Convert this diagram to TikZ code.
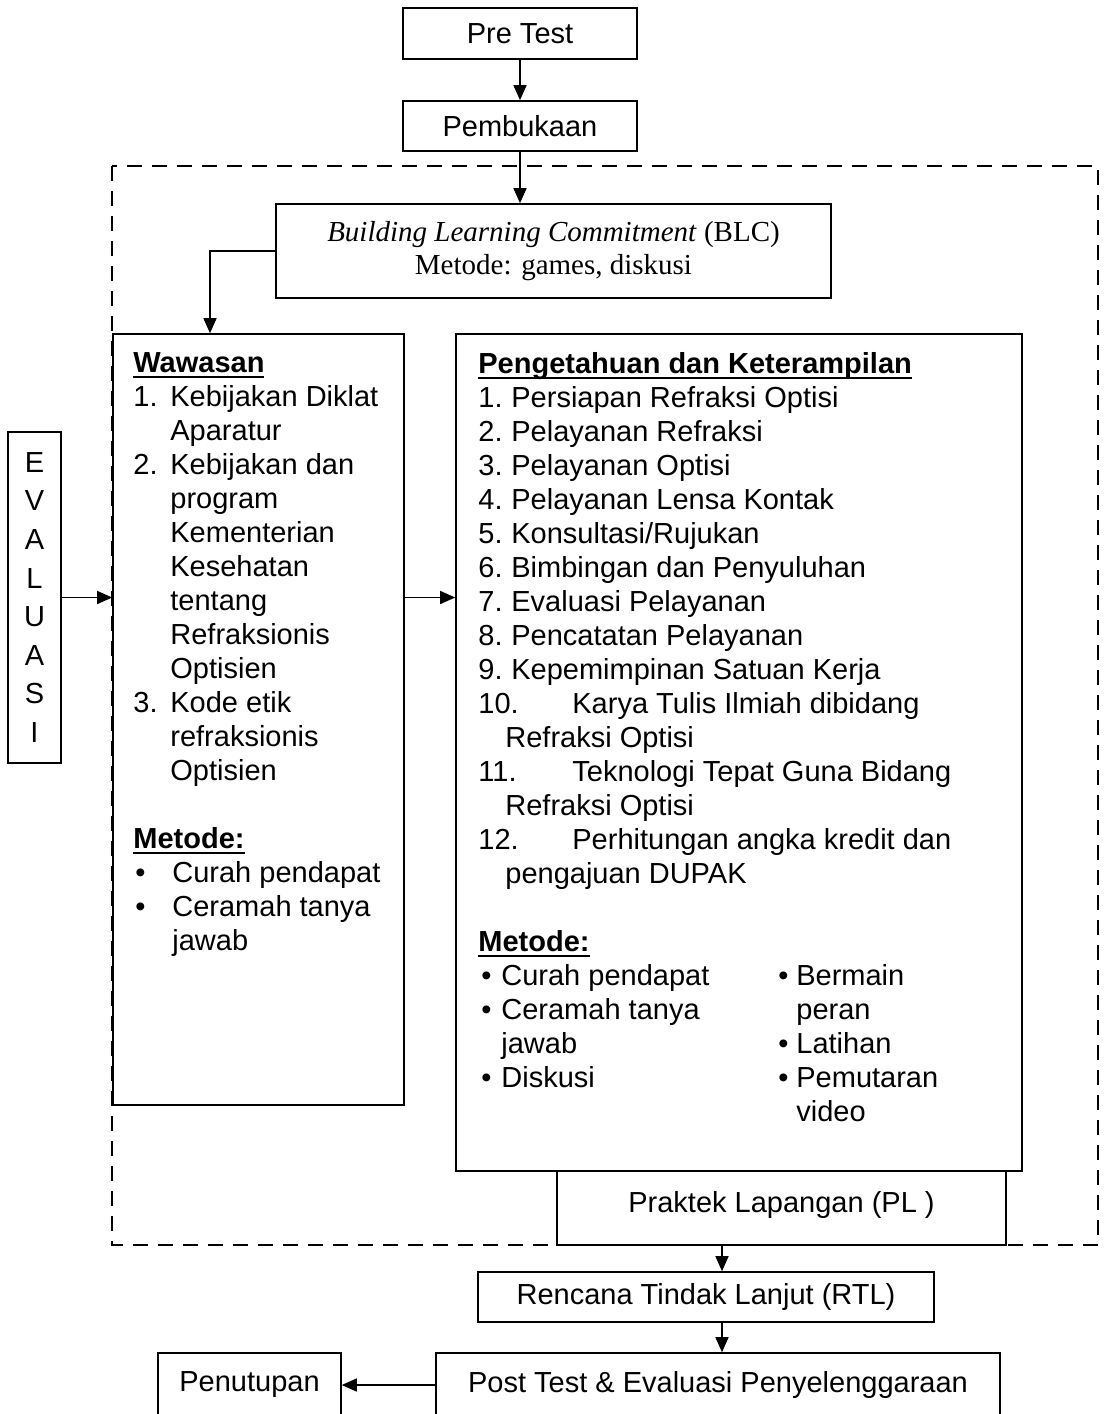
\documentclass[tikz,border=0pt]{standalone}
\usepackage{fontspec}
\setmainfont{Liberation Sans}
\newfontfamily\timesfont{Liberation Serif}
\usetikzlibrary{arrows.meta,calc}

% list helpers
\newcommand{\itm}[2][18.5pt]{\makebox[#1][l]{#2}}
\newlength\hdrlen
\newcommand{\hdr}[1]{\settowidth{\hdrlen}{\textbf{#1}}\textbf{#1}\hspace{-\hdrlen}\rule[-2.6pt]{\hdrlen}{1pt}}

\begin{document}
\begin{tikzpicture}[x=0.5pt, y=-0.5pt, >={Triangle[length=7.5pt,width=6.5pt]},
    box/.style={draw, line width=0.8pt, inner sep=0pt, font=\fontsize{14.5}{17}\selectfont},
    conn/.style={->, line width=0.7pt},
    txt/.style={inner sep=0pt, align=left, anchor=north west, font=\fontsize{14.5}{17}\selectfont}]
    \useasboundingbox (0,0) rectangle (1107,1414);
    \clip (0,0) rectangle (1107,1414);
    \fill[white] (0,0) rectangle (1107,1414);

    % Dashed frame
    \draw[dash pattern=on 7.5pt off 5pt, line width=1.2pt] (112,166) rectangle (1098,1245);

    % Top boxes
    \node[box, minimum width=117pt, minimum height=25.5pt] (pre) at (520,33.5) {Pre Test};
    \node[box, minimum width=117pt, minimum height=25pt] (pemb) at (520,126) {Pembukaan};
    \node[box, minimum width=277.5pt, minimum height=47pt, align=center,
          font=\timesfont\fontsize{14.5}{16.5}\selectfont] (blc) at (553.5,251)
          {\textit{Building Learning Commitment} (BLC)\\ Metode: games, diskusi};

    % Main boxes
    \node[box, minimum width=26.5pt, minimum height=165.5pt, align=center,
          font=\fontsize{14.5}{19.3}\selectfont] (eval) at (34.5,597.5) {E\\V\\A\\L\\U\\A\\S\\I};
    \node[box, minimum width=145.5pt, minimum height=385.5pt] (waw) at (258.5,719.5) {};
    \node[box, minimum width=283pt, minimum height=418.5pt] (pk) at (739,752.5) {};
    \node[box, minimum width=224.5pt, minimum height=37pt, text depth=6pt] (pl) at (781.5,1208) {Praktek Lapangan (PL )};

    % Bottom boxes
    \node[box, minimum width=228pt, minimum height=25pt] (rtl) at (706,1297) {Rencana Tindak Lanjut (RTL)};
    \node[box, minimum width=282pt, minimum height=32pt] (post) at (718,1385) {Post Test \& Evaluasi Penyelenggaraan};
    \node[box, minimum width=91.5pt, minimum height=32pt] (pen) at (249.5,1385) {Penutupan};

    % Wawasan text
    \node[txt] (wawtxt) at (133,352) {\hdr{Wawasan}\\
        \itm{1.}Kebijakan Diklat\\ \itm{}Aparatur\\
        \itm{2.}Kebijakan dan\\ \itm{}program\\ \itm{}Kementerian\\ \itm{}Kesehatan\\
        \itm{}tentang\\ \itm{}Refraksionis\\ \itm{}Optisien\\
        \itm{3.}Kode etik\\ \itm{}refraksionis\\ \itm{}Optisien\\[17pt]
        \hdr{Metode:}\\
        \itm[19.5pt]{\hspace{1pt}•}Curah pendapat\\
        \itm[19.5pt]{\hspace{1pt}•}Ceramah tanya\\
        \itm[19.5pt]{}jawab};

    % Pengetahuan dan Keterampilan text
    \node[txt] (pktxt) at (478,352) {\hdr{Pengetahuan dan Keterampilan}\\
        \itm[16.5pt]{1.}Persiapan Refraksi Optisi\\
        \itm[16.5pt]{2.}Pelayanan Refraksi\\
        \itm[16.5pt]{3.}Pelayanan Optisi\\
        \itm[16.5pt]{4.}Pelayanan Lensa Kontak\\
        \itm[16.5pt]{5.}Konsultasi/Rujukan\\
        \itm[16.5pt]{6.}Bimbingan dan Penyuluhan\\
        \itm[16.5pt]{7.}Evaluasi Pelayanan\\
        \itm[16.5pt]{8.}Pencatatan Pelayanan\\
        \itm[16.5pt]{9.}Kepemimpinan Satuan Kerja\\
        \itm[47pt]{10.}Karya Tulis Ilmiah dibidang\\ \hspace*{13.5pt}Refraksi Optisi\\
        \itm[47pt]{11.}Teknologi Tepat Guna Bidang\\ \hspace*{13.5pt}Refraksi Optisi\\
        \itm[47pt]{12.}Perhitungan angka kredit dan\\ \hspace*{13.5pt}pengajuan DUPAK\\[17pt]
        \hdr{Metode:}\\
        \itm[150pt]{\itm[11.5pt]{\hspace{1.5pt}•}Curah pendapat}\itm[9pt]{•}Bermain\\
        \itm[150pt]{\itm[11.5pt]{\hspace{1.5pt}•}Ceramah tanya}\itm[9pt]{}peran\\
        \itm[150pt]{\itm[11.5pt]{}jawab}\itm[9pt]{•}Latihan\\
        \itm[150pt]{\itm[11.5pt]{\hspace{1.5pt}•}Diskusi}\itm[9pt]{•}Pemutaran\\
        \itm[150pt]{}\itm[9pt]{}video};

    % Connectors
    \coordinate (rtlin) at ($(rtl.north)+(16,0)$);
    \draw[conn] (pre) -- (pemb);
    \draw[conn] (pemb.south) -- (pemb.south |- blc.north);
    \draw[conn] (blc.west) -| ($(waw.north)+(-48.5,0)$);
    \draw[conn] (eval.east) -- (eval.east -| waw.west);
    \draw[conn] (waw.east |- eval.east) -- (pk.west |- eval.east);
    \draw[conn] (rtlin |- pl.south) -- (rtlin);
    \draw[conn] (rtlin |- rtl.south) -- (rtlin |- post.north);
    \draw[conn] (post.west) -- (pen.east);
\end{tikzpicture}
\end{document}
